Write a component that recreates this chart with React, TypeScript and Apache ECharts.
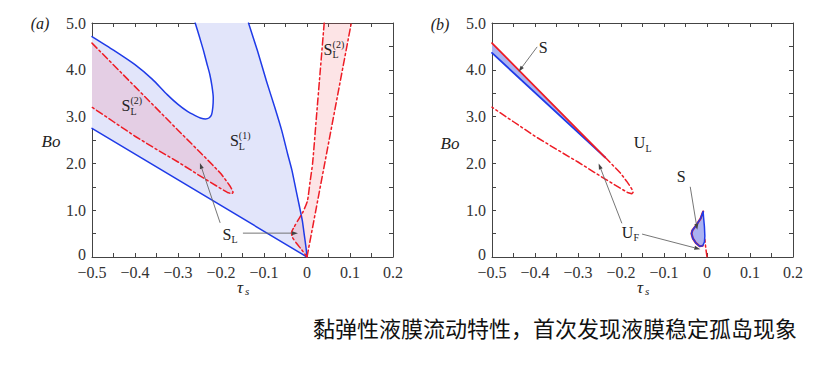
import React, { useEffect, useRef } from "react";
import * as echarts from "echarts";

type P = [number, number];

// ---------- tick labels ----------
const xTickLabels = ["−0.5", "−0.4", "−0.3", "−0.2", "−0.1", "0", "0.1", "0.2"];
const yTickLabels = ["0", "1.0", "2.0", "3.0", "4.0", "5.0"];

// ---------- panel (a) data: (τs, Bo) ----------
const aBlueLower: P[] = [[-0.5, 2.75], [0, 0]];
const aBlueUpper: P[] = [
  [-0.5, 4.71], [-0.45, 4.42], [-0.4, 4.11], [-0.36, 3.8], [-0.325, 3.47], [-0.3, 3.26],
  [-0.278, 3.11], [-0.26, 3.02], [-0.248, 2.97], [-0.236, 2.95], [-0.228, 2.97], [-0.222, 3.04],
  [-0.219, 3.2], [-0.218, 3.4], [-0.221, 3.65], [-0.226, 3.9], [-0.233, 4.14], [-0.241, 4.42],
  [-0.25, 4.7], [-0.26, 5.0],
];
const aBlueRight: P[] = [
  [-0.136, 5.0], [-0.115, 4.4], [-0.094, 3.75], [-0.075, 3.2], [-0.059, 2.71], [-0.045, 2.2],
  [-0.035, 1.85], [-0.026, 1.45], [-0.018, 1.1], [-0.011, 0.78], [-0.006, 0.45], [-0.002, 0.18], [0, 0],
];
const ellipseUpper: P[] = [
  [-0.5, 4.57], [-0.4, 3.64], [-0.3, 2.71], [-0.237, 2.13], [-0.22, 1.97], [-0.2, 1.78],
  [-0.187, 1.62], [-0.178, 1.5], [-0.173, 1.42], [-0.172, 1.38],
];
const ellipseLower: P[] = [
  [-0.175, 1.35], [-0.185, 1.38], [-0.2, 1.46], [-0.225, 1.6], [-0.25, 1.74], [-0.3, 2.03],
  [-0.35, 2.3], [-0.4, 2.58], [-0.45, 2.89], [-0.5, 3.2],
];
const aWedgeRight: P[] = [[0, 0], [0.103, 5.0]];
const aWedgeLeft: P[] = [
  [0.04, 5.0], [0.031, 4.0], [0.022, 3.0], [0.013, 2.0], [0.007, 1.6], [0.001, 1.2],
  [-0.009, 0.97], [-0.02, 0.8], [-0.03, 0.64], [-0.036, 0.52], [-0.034, 0.42], [-0.025, 0.3],
  [-0.012, 0.15], [0, 0],
];

// ---------- panel (b) data ----------
const bBandBlue: P[] = [[-0.5, 4.36], [-0.237, 2.13]];
const bIsland: P[] = [
  [-0.009, 0.97], [-0.015, 0.82], [-0.025, 0.68], [-0.034, 0.57], [-0.036, 0.5], [-0.033, 0.4],
  [-0.026, 0.3], [-0.017, 0.23], [-0.01, 0.24], [-0.006, 0.32], [-0.005, 0.45], [-0.006, 0.65],
  [-0.008, 0.85], [-0.009, 0.97],
];
const bIslandRed: P[] = bIsland.slice(0, 9);
const bOriginRed: P[] = [[0, 0], [-0.003, 0.2], [-0.005, 0.38]];

// ---------- annotations (data units) ----------
type Lab = { base: string; sup?: string; sub?: string; at: P };
const aLabels: Lab[] = [
  { base: "S", sup: "(1)", sub: "L", at: [-0.169, 2.48] },
  { base: "S", sup: "(2)", sub: "L", at: [-0.421, 3.23] },
  { base: "S", sup: "(2)", sub: "L", at: [0.049, 4.44] },
  { base: "S", sub: "L", at: [-0.186, 0.49] },
];
const aArrows: [P, P][] = [
  [[-0.202, 0.73], [-0.249, 2.01]],
  [[-0.149, 0.51], [-0.021, 0.51]],
];
const bLabels: Lab[] = [
  { base: "S", at: [-0.381, 4.47] },
  { base: "U", sub: "L", at: [-0.157, 2.44] },
  { base: "S", at: [-0.06, 1.71] },
  { base: "U", sub: "F", at: [-0.185, 0.53] },
];
const bArrows: [P, P][] = [
  [[-0.395, 4.49], [-0.438, 3.96]],
  [[-0.039, 1.5], [-0.0226, 0.58]],
  [[-0.198, 0.72], [-0.252, 2.0]],
  [[-0.151, 0.49], [-0.0156, 0.165]],
];

const caption = "黏弹性液膜流动特性，首次发现液膜稳定孤岛现象";

const BLUE = "#1f3be8";
const RED = "#ee1c25";
const SERIF = "Liberation Serif";
const DASH = [7, 3, 2, 3];

const rev = (a: P[]) => a.slice().reverse();

function xAxis(gridIndex: number, bottom: boolean) {
  return {
    type: "value", gridIndex, min: -0.5, max: 0.2, interval: 0.1,
    position: bottom ? "bottom" : "top",
    axisLine: { show: true, onZero: false, lineStyle: { color: "#444", width: 1 } },
    axisTick: { show: true, inside: true, length: 4, lineStyle: { color: "#444" } },
    minorTick: { show: true, splitNumber: 2, length: 4, lineStyle: { color: "#444" } },
    splitLine: { show: false },
    axisLabel: {
      show: bottom, margin: 9, color: "#333", fontFamily: SERIF, fontSize: 16, lineHeight: 13,
      showMinLabel: true, showMaxLabel: true,
      formatter: (v: number) => xTickLabels[Math.round((v + 0.5) / 0.1)] ?? "",
    },
  };
}
function yAxis(gridIndex: number, left: boolean) {
  return {
    type: "value", gridIndex, min: 0, max: 5, interval: 1,
    position: left ? "left" : "right",
    axisLine: { show: true, onZero: false, lineStyle: { color: "#444", width: 1 } },
    axisTick: { show: true, inside: true, length: 4, lineStyle: { color: "#444" } },
    minorTick: { show: true, splitNumber: 2, length: 4, lineStyle: { color: "#444" } },
    splitLine: { show: false },
    axisLabel: {
      show: left, margin: 6, color: "#333", fontFamily: SERIF, fontSize: 16, lineHeight: 10,
      showMinLabel: true, showMaxLabel: true,
      formatter: (v: number) => {
        const i = Math.round(v);
        return i === 0 ? "{z|" + yTickLabels[0] + "}" : yTickLabels[i] ?? "";
      },
      rich: {
        z: { fontFamily: SERIF, fontSize: 16, color: "#333", lineHeight: 10, padding: [0, 0, 6, 0] },
      },
    },
  };
}

function poly(pts: P[], fill: string, ax: number, z: number) {
  return {
    type: "custom", xAxisIndex: ax * 2, yAxisIndex: ax * 2, z, silent: true, clip: true,
    data: [pts[0]],
    renderItem: (_p: any, api: any) => ({
      type: "polygon",
      shape: { points: pts.map((q) => api.coord(q)) },
      style: { fill, stroke: "none" },
    }),
  };
}
function line(pts: P[], color: string, dashed: boolean, ax: number, width = 1.5, z = 5, smooth = 0) {
  return {
    type: "line", data: pts, xAxisIndex: ax * 2, yAxisIndex: ax * 2, z, silent: true, clip: true,
    symbol: "none", showSymbol: false, animation: false, smooth,
    lineStyle: { color, width, type: dashed ? DASH : "solid", cap: "round", join: "round" },
  };
}

export default function App() {
  const ref = useRef<HTMLDivElement>(null);
  useEffect(() => {
    if (!ref.current) return;
    const chart = echarts.init(ref.current, undefined, { renderer: "svg" });

    const blueRegion: P[] = [...rev(aBlueLower), ...aBlueUpper, ...aBlueRight];
    const ellipse: P[] = [...ellipseUpper, ...ellipseLower];
    const wedge: P[] = [...aWedgeRight, ...aWedgeLeft];
    const bBand: P[] = [...ellipseUpper.slice(0, 4), ...rev(bBandBlue)];
    const bRedSolid = ellipseUpper.slice(0, 4);
    const bRedDash = [...ellipseUpper.slice(3), ...ellipseLower];

    const option: any = {
      animation: false,
      backgroundColor: "#ffffff",
      grid: [
        { left: 92, top: 23, width: 301, height: 234, containLabel: false, outerBoundsMode: "none" },
        { left: 492, top: 23, width: 301, height: 234, containLabel: false, outerBoundsMode: "none" },
      ],
      xAxis: [xAxis(0, true), xAxis(0, false), xAxis(1, true), xAxis(1, false)],
      yAxis: [yAxis(0, true), yAxis(0, false), yAxis(1, true), yAxis(1, false)],
      series: [
        poly(blueRegion, "#e2e5fa", 0, 1),
        poly(ellipse, "rgba(235,95,120,0.17)", 0, 2),
        poly(wedge, "rgba(240,90,100,0.16)", 0, 2),
        line(aBlueLower, BLUE, false, 0),
        line(aBlueUpper, BLUE, false, 0, 1.5, 5, 0.2),
        line(aBlueRight, BLUE, false, 0, 1.5, 5, 0.2),
        line(ellipse, RED, true, 0),
        line(aWedgeRight, RED, true, 0),
        line(aWedgeLeft, RED, true, 0, 1.5, 5, 0.2),
        poly(bBand, "#aab2f2", 1, 1),
        poly(bIsland, "#aab2f2", 1, 1),
        line(bRedDash, RED, true, 1),
        line(bBandBlue, BLUE, false, 1, 1.8),
        line(bRedSolid, RED, false, 1, 1.8, 6),
        line(bIslandRed, RED, false, 1, 2.2),
        line(bIsland, BLUE, false, 1, 1.5, 6),
        line(bOriginRed, RED, true, 1),
      ],
    };
    chart.setOption(option);

    const g: any[] = [];
    const txt = (x: number, y: number, s: string, size: number, opts: any = {}) => ({
      type: "text", x, y, silent: true, z: 100,
      style: { text: s, fontFamily: SERIF, fontSize: size, fill: "#222", align: "center", verticalAlign: "middle", ...opts },
    });
    const addLabels = (gi: number, labs: Lab[]) => {
      labs.forEach((l) => {
        const [x, y] = chart.convertToPixel({ gridIndex: gi }, l.at) as number[];
        const w = l.base === "U" ? 6 : 4.5;
        g.push(txt(x, y, l.base, 16));
        if (l.sup) g.push(txt(x + w, y - 5, l.sup, 10, { align: "left" }));
        if (l.sub) g.push(txt(x + w, y + 5.5, l.sub, 10, { align: "left" }));
      });
    };
    const addArrows = (gi: number, arr: [P, P][]) => {
      arr.forEach(([s, e]) => {
        const p0 = chart.convertToPixel({ gridIndex: gi }, s) as number[];
        const p1 = chart.convertToPixel({ gridIndex: gi }, e) as number[];
        const dx = p1[0] - p0[0], dy = p1[1] - p0[1];
        const L = Math.hypot(dx, dy) || 1;
        const ux = dx / L, uy = dy / L;
        const bx = p1[0] - ux * 6, by = p1[1] - uy * 6;
        g.push({
          type: "line", silent: true, z: 99,
          shape: { x1: p0[0], y1: p0[1], x2: bx, y2: by },
          style: { stroke: "#666", lineWidth: 0.9 },
        });
        g.push({
          type: "polygon", silent: true, z: 99,
          shape: { points: [[p1[0], p1[1]], [bx - uy * 2, by + ux * 2], [bx + uy * 2, by - ux * 2]] },
          style: { fill: "#444" },
        });
      });
    };
    addLabels(0, aLabels);
    addLabels(1, bLabels);
    addArrows(0, aArrows);
    addArrows(1, bArrows);

    const italic = { fontStyle: "italic" };
    g.push(txt(40, 23, "(a)", 16, italic));
    g.push(txt(440, 24, "(b)", 16, italic));
    g.push(txt(51, 141, "Bo", 17, italic));
    g.push(txt(450, 143, "Bo", 17, italic));
    g.push(txt(240, 287, "τ", 17, italic));
    g.push(txt(245, 291, "s", 11, { ...italic, align: "left" }));
    g.push(txt(640, 287, "τ", 17, italic));
    g.push(txt(645, 291, "s", 11, { ...italic, align: "left" }));
    g.push({
      type: "text", x: 313, y: 327, silent: true, z: 100,
      style: {
        text: caption, fontFamily: "Noto Sans CJK SC", fontSize: 22,
        fontWeight: "normal", fill: "#111", align: "left", verticalAlign: "middle",
      },
    });

    chart.setOption({ graphic: g });

    return () => chart.dispose();
  }, []);

  return (
    <div
      ref={ref}
      style={{ position: "fixed", left: 0, top: 0, width: 832, height: 367, background: "#fff" }}
    />
  );
}
